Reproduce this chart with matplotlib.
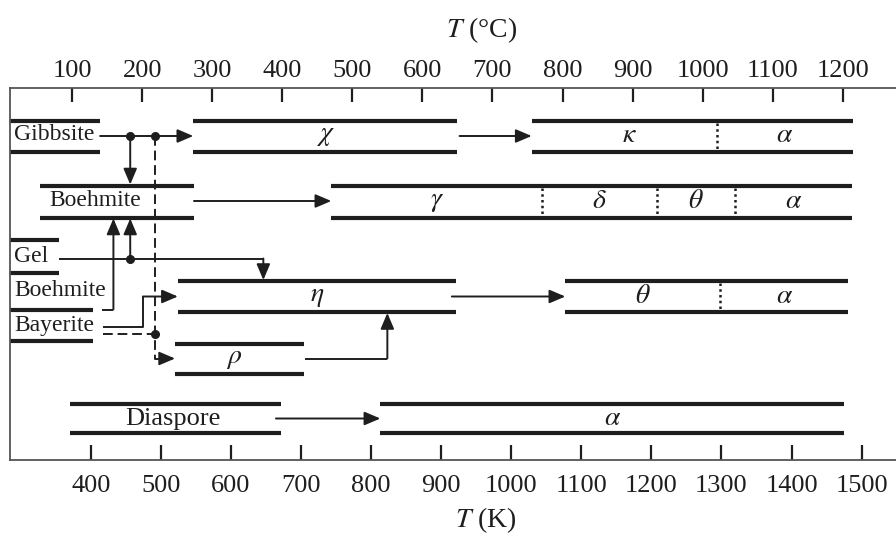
import matplotlib
matplotlib.use('Agg')
import matplotlib.pyplot as plt

plt.rcParams['font.family'] = ['Liberation Serif', 'DejaVu Serif']
plt.rcParams['mathtext.fontset'] = 'stix'

# ---------------- data (temperatures in °C) ----------------
celsius_ticks = [100, 200, 300, 400, 500, 600, 700, 800, 900, 1000, 1100, 1200]
kelvin_ticks = [400, 500, 600, 700, 800, 900, 1000, 1100, 1200, 1300, 1400, 1500]

gibbsite_box = [11.4, 140]
chi_box = [273, 650]
kappa_box = [756, 1214]
kappa_alpha_T = [1020]

boehmite_box = [54, 274]
gamma_box = [470, 1213]
gamma_divs = [771, 935, 1046]

gel_box = [11.4, 82]
boehmite2_bar = [11.4, 130]
bayerite_bar = [11.4, 130]
eta_box = [251, 648]
theta_box = [804, 1208]
theta_alpha_T = [1025]
rho_box = [247, 431]

diaspore_box = [97, 398]
alpha_box = [540, 1202]

dot_T = [183, 218]           # branching temperatures on Gibbsite line
gel_drop_T = 373             # Gel -> eta
boehmite2_rise_T = 159       # Boehmite (gel) -> Boehmite
bayerite_rise_T = 201        # Bayerite -> eta
rho_rise_T = 550             # rho -> eta
label_start_T = 17

# ---------------- layout ----------------
C = '#1e1e1e'
BAR = 3.0
LN = 1.4

fig = plt.figure(figsize=(8.96, 5.36), dpi=100)
ax = fig.add_axes([10 / 896, 1 - 460 / 536, 886 / 896, (460 - 87.5) / 536])
ax.set_xlim(11.4, 1276)
ax.set_ylim(460, 87.5)

# row vertical positions (top bar, bottom bar, middle)
R1 = (120.5, 151.5, 136)
R2 = (185.5, 217.5, 201)
RG = (240, 272.5, 257)
RE = (281, 312, 296.5)
RR = (343.5, 373.5, 358.5)
R5 = (404, 433, 418.5)
y_boe2_label, y_boe2_bar = 290, 309.5
y_bay_label, y_bay_bar = 325, 341


def bar(x, y):
    ax.plot(x, [y, y], color=C, lw=BAR, solid_capstyle='butt')


def box(x, row):
    bar(x, row[0])
    bar(x, row[1])


def divider(xv, row):
    ax.plot([xv, xv], [row[0] + 2, row[1] - 2], color=C, lw=1.8, ls=(0, (1, 1.3)))


def arrow(p0, p1, ls='-'):
    ax.annotate('', xy=p1, xytext=p0,
                arrowprops=dict(arrowstyle='-|>,head_length=0.8,head_width=0.34',
                                mutation_scale=12, lw=LN, color=C,
                                shrinkA=0, shrinkB=0, linestyle=ls))


def line(xs, ys, ls='-'):
    ax.plot(xs, ys, color=C, lw=LN, ls=ls, solid_capstyle='butt')


def dot(x, y):
    ax.plot([x], [y], 'o', color=C, ms=5.5)


def greek(txt, x, y, size=20):
    ax.text(x, y, txt, ha='center', va='center', fontsize=size, color=C)


def label(txt, x, y, size=17, ha='left'):
    ax.text(x, y, txt, ha=ha, va='center', fontsize=size, color=C)


# Row 1: Gibbsite -> chi -> kappa / alpha
box(gibbsite_box, R1)
label('Gibbsite', label_start_T, R1[2] - 1)
arrow((gibbsite_box[1], R1[2]), (chi_box[0], R1[2]))
box(chi_box, R1)
greek(r'$\chi$', sum(chi_box) / 2, R1[2])
arrow((chi_box[1] + 3, R1[2]), (kappa_box[0], R1[2]))
box(kappa_box, R1)
divider(kappa_alpha_T[0], R1)
greek(r'$\kappa$', (kappa_box[0] + kappa_alpha_T[0]) / 2 + 8, R1[2])
greek(r'$\alpha$', (kappa_alpha_T[0] + kappa_box[1]) / 2, R1[2])

# Row 2: Boehmite -> gamma / delta / theta / alpha
box(boehmite_box, R2)
label('Boehmite', 68, R2[2] - 1)
arrow((boehmite_box[1], R2[2]), (gamma_box[0], R2[2]))
box(gamma_box, R2)
for d in gamma_divs:
    divider(d, R2)
segs = [gamma_box[0]] + gamma_divs + [gamma_box[1]]
for txt, a, b in zip([r'$\gamma$', r'$\delta$', r'$\theta$', r'$\alpha$'], segs[:-1], segs[1:]):
    greek(txt, (a + b) / 2, R2[2])

# Gibbsite -> Boehmite
dot(dot_T[0], R1[2])
arrow((dot_T[0], R1[2]), (dot_T[0], R2[0] - 1))

# Gel
box(gel_box, RG)
label('Gel', label_start_T, RG[2] - 1)
line([gel_box[1], gel_drop_T], [RG[2] + 1.5, RG[2] + 1.5])
arrow((gel_drop_T, RG[2] + 1.5), (gel_drop_T, RE[0] - 1))
dot(dot_T[0], RG[2] + 1.5)
arrow((dot_T[0], RG[2] + 1.5), (dot_T[0], R2[1] + 1))

# Boehmite (second) and Bayerite
label('Boehmite', label_start_T, y_boe2_label)
bar(boehmite2_bar, y_boe2_bar)
line([142, boehmite2_rise_T], [y_boe2_bar, y_boe2_bar])
arrow((boehmite2_rise_T, y_boe2_bar), (boehmite2_rise_T, R2[1] + 1))

label('Bayerite', label_start_T, y_bay_label)
bar(bayerite_bar, y_bay_bar)
line([144, bayerite_rise_T, bayerite_rise_T], [327, 327, RE[2]])
arrow((bayerite_rise_T, RE[2]), (eta_box[0], RE[2]))

# dashed Gibbsite/Bayerite -> rho
DASH = (0, (5, 2.5))
dot(dot_T[1], R1[2])
line([dot_T[1], dot_T[1], rho_box[0] - 10], [R1[2], RR[2], RR[2]], ls=DASH)
arrow((rho_box[0] - 11, RR[2]), (rho_box[0], RR[2]))
line([144, dot_T[1]], [334, 334], ls=DASH)
dot(dot_T[1], 334)

# eta -> theta / alpha
box(eta_box, RE)
greek(r'$\eta$', sum(eta_box) / 2, RE[2])
arrow((eta_box[1] - 6, RE[2]), (theta_box[0], RE[2]))
box(theta_box, RE)
divider(theta_alpha_T[0], RE)
greek(r'$\theta$', (theta_box[0] + theta_alpha_T[0]) / 2, RE[2])
greek(r'$\alpha$', (theta_alpha_T[0] + theta_box[1]) / 2, RE[2])

# rho -> eta
box(rho_box, RR)
greek(r'$\rho$', sum(rho_box) / 2 - 8, RR[2])
line([rho_box[1] + 1, rho_rise_T], [RR[2], RR[2]])
arrow((rho_rise_T, RR[2]), (rho_rise_T, RE[1] + 1))

# Diaspore -> alpha
box(diaspore_box, R5)
label('Diaspore', sum(diaspore_box) / 2 - 3, R5[2], size=19, ha='center')
arrow((391, R5[2]), (alpha_box[0], R5[2]))
box(alpha_box, R5)
greek(r'$\alpha$', sum(alpha_box) / 2, R5[2])

# ---------------- axes ----------------
ax.set_yticks([])
ax.xaxis.set_ticks_position('top')
ax.set_xticks(celsius_ticks)
ax.set_xticklabels([str(t) for t in celsius_ticks])
ax.tick_params(axis='x', direction='in', length=10, width=1.6, labelsize=19,
               pad=4, colors=C)
for s in ['right', 'bottom']:
    ax.spines[s].set_visible(False)
for s in ['top', 'left']:
    ax.spines[s].set_color('#555555')
    ax.spines[s].set_linewidth(1.3)

secax = ax.secondary_xaxis('bottom', functions=(lambda c: c + 273.15, lambda k: k - 273.15))
secax.set_xticks(kelvin_ticks)
secax.set_xticklabels([str(t) for t in kelvin_ticks])
secax.tick_params(axis='x', direction='in', length=11, width=1.6, labelsize=19,
                  pad=10.5, colors=C)
secax.spines['bottom'].set_color('#555555')
secax.spines['bottom'].set_linewidth(1.3)

fig.text(482 / 896, 1 - 30 / 536, '$T$ (°C)', ha='center', va='center', fontsize=20, color=C)
fig.text(486 / 896, 1 - 520 / 536, '$T$ (K)', ha='center', va='center', fontsize=20, color=C)

fig.savefig('out.png', dpi=100)
